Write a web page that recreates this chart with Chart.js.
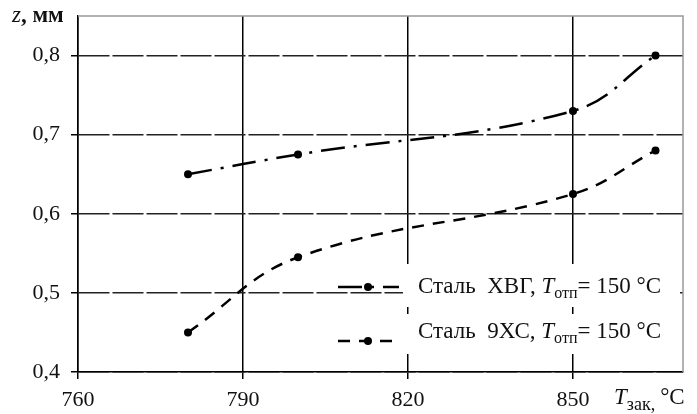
<!DOCTYPE html>
<html>
<head>
<meta charset="utf-8">
<script src="https://cdn.jsdelivr.net/npm/chart.js@4"></script>
<style>
  body { margin: 0; background: #fff; }
  #wrap { width: 697px; height: 414px; position: relative; }
</style>
</head>
<body>
<div id="wrap"><canvas id="zChart"></canvas></div>
<script>
// data
const temps = [780, 800, 850, 865];
const zHVG = [0.65, 0.675, 0.73, 0.80];
const z9HS = [0.45, 0.545, 0.625, 0.68];
const xTicks = [760, 790, 820, 850];
const yTicks = [0.4, 0.5, 0.6, 0.7, 0.8];
const seriesNames = ['Сталь  ХВГ, ', 'Сталь  9ХС, '];

const SERIF = '"Liberation Serif", "Times New Roman", serif';
const INK = '#111';

// draw text made of several pieces (italic, subscript...)
function richText(ctx, x, y, parts) {
  ctx.save();
  ctx.textBaseline = 'alphabetic';
  ctx.textAlign = 'left';
  ctx.fillStyle = INK;
  parts.forEach(function(p) {
    ctx.font = p.font;
    ctx.fillText(p.text, x, y + (p.dy || 0));
    x += ctx.measureText(p.text).width + (p.gap || 0);
  });
  ctx.restore();
}

const normal = '23px ' + SERIF;
const italic = 'italic 23px ' + SERIF;
const small = '16px ' + SERIF;

const extras = {
  id: 'extras',
  beforeDatasetsDraw(chart) {
    const ctx = chart.ctx, a = chart.chartArea;
    // grey frame on top and right
    ctx.save();
    ctx.strokeStyle = '#999';
    ctx.lineWidth = 1.5;
    ctx.beginPath();
    ctx.moveTo(a.left, a.top);
    ctx.lineTo(a.right, a.top);
    ctx.lineTo(a.right, a.bottom);
    ctx.stroke();
    ctx.restore();
  },
  afterDatasetsDraw(chart) {
    const ctx = chart.ctx;
    const rows = [
      { y: 287, ty: 293, ds: chart.data.datasets[0] },
      { y: 341, ty: 338, ds: chart.data.datasets[1] }
    ];
    // legend background
    ctx.save();
    ctx.fillStyle = '#fff';
    ctx.fillRect(403, 264, 277, 43);
    ctx.fillRect(403, 314, 277, 40);
    ctx.restore();

    rows.forEach(function(r, i) {
      ctx.save();
      ctx.strokeStyle = '#000';
      ctx.lineWidth = r.ds.borderWidth;
      ctx.setLineDash(r.ds.borderDash);
      ctx.beginPath();
      ctx.moveTo(338, r.y);
      ctx.lineTo(399, r.y);
      ctx.stroke();
      ctx.setLineDash([]);
      ctx.fillStyle = '#000';
      ctx.beginPath();
      ctx.arc(368, r.y, r.ds.pointRadius, 0, Math.PI * 2);
      ctx.fill();
      ctx.restore();
      richText(ctx, 418, r.ty, [
        { text: seriesNames[i], font: normal },
        { text: 'T', font: italic },
        { text: 'отп', font: small, dy: 5 },
        { text: '= 150 °C', font: normal }
      ]);
    });

    // axis titles
    richText(ctx, 12, 22, [
      { text: 'z', font: italic },
      { text: ', мм', font: 'bold 23px ' + SERIF }
    ]);
    richText(ctx, 614, 404, [
      { text: 'T', font: italic },
      { text: 'зак,', font: '18px ' + SERIF, dy: 6, gap: 5 },
      { text: '°C', font: normal }
    ]);
  }
};

new Chart(document.getElementById('zChart'), {
  type: 'line',
  data: {
    datasets: [{
      label: 'ХВГ',
      data: temps.map((t, i) => ({ x: t, y: zHVG[i] })),
      borderColor: '#000',
      backgroundColor: '#000',
      borderWidth: 2.5,
      borderDash: [24, 9, 3, 9],
      pointRadius: 4,
      pointBorderWidth: 0,
      tension: 0.4
    }, {
      label: '9ХС',
      data: temps.map((t, i) => ({ x: t, y: z9HS[i] })),
      borderColor: '#000',
      backgroundColor: '#000',
      borderWidth: 2.5,
      borderDash: [12, 9],
      pointRadius: 4,
      pointBorderWidth: 0,
      tension: 0.4
    }]
  },
  options: {
    responsive: true,
    maintainAspectRatio: false,
    animation: false,
    layout: { padding: { top: 16, right: 14, left: 0, bottom: 0 } },
    plugins: { legend: { display: false }, tooltip: { enabled: false } },
    scales: {
      x: {
        type: 'linear',
        min: 760,
        max: 870,
        afterBuildTicks: s => { s.ticks = xTicks.map(v => ({ value: v })); },
        afterFit: s => { s.height = 42; s.paddingRight = 0; },
        grid: { color: '#000', lineWidth: 1.5, tickLength: 7, tickColor: '#000' },
        border: { color: '#000', width: 1.5 },
        ticks: { color: INK, font: { family: SERIF, size: 22 }, padding: 8, maxRotation: 0 }
      },
      y: {
        min: 0.4,
        max: 0.85,
        afterBuildTicks: s => { s.ticks = yTicks.map(v => ({ value: v })); },
        afterFit: s => { s.width = 78; s.paddingTop = 0; s.paddingBottom = 0; },
        grid: { color: '#222', lineWidth: 1.5, tickLength: 7, tickColor: '#000' },
        border: { color: '#000', width: 1.5, dash: [31, 3] },
        ticks: {
          color: INK,
          font: { family: SERIF, size: 22 },
          padding: 11,
          callback: v => v.toFixed(1).replace('.', ',')
        }
      }
    }
  },
  plugins: [extras]
});
</script>
</body>
</html>
